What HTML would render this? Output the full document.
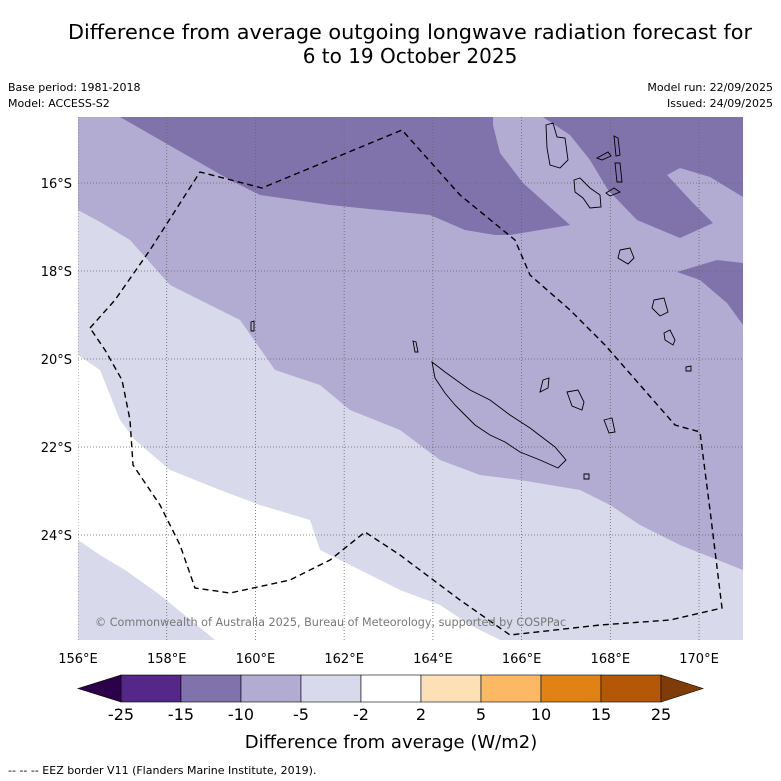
<!DOCTYPE html>
<html><head><meta charset="utf-8"><style>
body{margin:0;background:#fff;font-family:"DejaVu Sans",sans-serif}
svg{display:block}
</style></head><body>
<svg id="s" width="781" height="781" viewBox="0 0 781 781" xmlns="http://www.w3.org/2000/svg" font-family="DejaVu Sans, sans-serif">
<text x="410" y="39" font-size="20" text-anchor="middle" textLength="684" lengthAdjust="spacingAndGlyphs">Difference from average outgoing longwave radiation forecast for</text>
<text x="410" y="63" font-size="20" text-anchor="middle">6 to 19 October 2025</text>
<text x="8" y="91" font-size="11">Base period: 1981-2018</text>
<text x="8" y="107" font-size="11">Model: ACCESS-S2</text>
<text x="773" y="91" font-size="11" text-anchor="end">Model run: 22/09/2025</text>
<text x="773" y="107" font-size="11" text-anchor="end">Issued: 24/09/2025</text>
<defs><clipPath id="mc"><rect x="78" y="117" width="665" height="523"/></clipPath></defs>
<g id="map" clip-path="url(#mc)"></g>
<text x="95" y="626" font-size="11.2" fill="#777">© Commonwealth of Australia 2025, Bureau of Meteorology, supported by COSPPac</text>
<g id="axes"></g>
<g id="cbar"></g>
<text x="391" y="748" font-size="18" text-anchor="middle">Difference from average (W/m2)</text>
<text x="8" y="774" font-size="11">--  --  -- EEZ border V11 (Flanders Marine Institute, 2019).</text>
</svg>
<script>
const lonTicks=[156,158,160,162,164,166,168,170];
const latTicks=[16,18,20,22,24];
const cbBounds=[-25,-15,-10,-5,-2,2,5,10,15,25];
const cbColors=["#542788","#8073ac","#b2abd2","#d8daeb","#ffffff","#fee0b6","#fdb863","#e08214","#b35806"];
const cbExt=["#2d004b","#7f3b08"];
const regDarkLeft=[[120,117],[230,180],[260,195],[330,205],[430,215],[465,230],[495,235],[510,235],[570,225],[523,183],[500,153],[493,125],[493,117]];
const regDarkRight=[[543,117],[570,135],[590,160],[608,190],[637,220],[680,238],[713,223],[693,203],[667,175],[680,168],[710,177],[743,197],[743,117]];
const regDarkPatch=[[677,272],[717,260],[743,263],[743,325],[727,303],[700,280]];
const regPale=[[78,210],[100,222],[130,240],[170,285],[200,300],[240,320],[275,370],[320,385],[350,410],[400,430],[440,460],[480,475],[520,480],[580,490],[610,505],[640,525],[680,545],[743,570],[743,640],[78,640]];
const regWhite=[[78,355],[100,370],[120,420],[135,440],[170,470],[220,490],[260,505],[310,520],[320,550],[360,570],[400,590],[440,605],[470,625],[500,640],[215,640],[160,595],[125,570],[100,555],[78,540]];
const eez=[[90,328],[115,300],[150,250],[200,172],[262,188],[402,130],[460,195],[515,240],[530,275],[570,310],[605,345],[640,385],[675,425],[700,432],[710,510],[722,608],[670,620],[600,625],[510,635],[460,600],[420,570],[400,555],[365,532],[330,560],[290,580],[230,593],[195,588],[180,545],[160,505],[133,465],[130,420],[122,380],[105,350],[90,328]];
const islands=[
[[432,362],[445,372],[470,390],[490,400],[510,415],[530,428],[555,447],[566,460],[558,468],[540,460],[520,452],[505,442],[490,435],[475,425],[465,415],[455,405],[445,393],[435,378]],
[[546,125],[553,123],[557,137],[565,138],[568,160],[560,168],[550,165],[547,148]],
[[574,180],[580,178],[590,188],[600,195],[601,207],[590,208],[583,198],[575,192]],
[[597,158],[608,152],[611,156],[602,160]],
[[614,136],[618,138],[620,155],[616,156]],
[[615,163],[620,163],[622,182],[617,182]],
[[606,193],[614,188],[620,192],[610,196]],
[[620,250],[630,248],[634,258],[628,264],[618,258]],
[[654,300],[664,298],[668,312],[660,316],[652,308]],
[[664,333],[670,330],[675,340],[673,345],[665,340]],
[[567,392],[578,390],[584,402],[582,410],[572,406]],
[[543,380],[549,378],[548,388],[540,392]],
[[251,322],[254,321],[254,331],[251,331]],
[[413,341],[416,342],[418,352],[415,352]],
[[686,367],[691,366],[691,371],[686,371]],
[[584,474],[589,474],[589,479],[584,479]],
[[604,420],[612,418],[615,432],[609,433]]
];
const NS="http://www.w3.org/2000/svg";
function lonX(lon){return 78+(lon-156)*44.36;}
function latY(lat){return 183+(lat-16)*44;}
function pxLon(x){return 156+(x-78)/44.36;}
function pxLat(y){return 16+(y-183)/44;}
function ll(arr){return arr.map(p=>[pxLon(p[0]),pxLat(p[1])]);}
function pts(arr){return ll(arr).map(p=>lonX(p[0]).toFixed(1)+","+latY(p[1]).toFixed(1)).join(" ");}
function mk(tag,attrs,parent){const e=document.createElementNS(NS,tag);for(const k in attrs)e.setAttribute(k,attrs[k]);parent.appendChild(e);return e;}
const map=document.getElementById('map');
let r=mk('rect',{x:78,y:117,width:665,height:523,fill:"#b2abd2"},map);


let p;
p=mk('polygon',{points:pts(regPale),fill:"#d8daeb"},map);


p=mk('polygon',{points:pts(regWhite),fill:"#ffffff"},map);


[regDarkLeft,regDarkRight,regDarkPatch].forEach(function(reg){
 const q=mk('polygon',{points:pts(reg),fill:"#8073ac"},map);
 
 
});
lonTicks.forEach(function(l){
 const g=mk('line',{x1:lonX(l),x2:lonX(l),y1:117,y2:640,stroke:"#666","stroke-width":0.8,"stroke-dasharray":"1,2"},map);
 
 
});
latTicks.forEach(function(l){
 const g=mk('line',{x1:78,x2:743,y1:latY(l),y2:latY(l),stroke:"#666","stroke-width":0.8,"stroke-dasharray":"1,2"},map);
 
 
});
islands.forEach(function(is){
 const q=mk('polygon',{points:pts(is),fill:"none",stroke:"#000","stroke-width":0.9},map);
 
 
});
p=mk('polyline',{points:pts(eez),fill:"none",stroke:"#000","stroke-width":1.4,"stroke-dasharray":"6,4"},map);


const axes=document.getElementById('axes');
lonTicks.forEach(function(l){
 const t=mk('text',{x:lonX(l),y:663,"font-size":13,"text-anchor":"middle"},axes);
 t.textContent=l+"°E";
 
 
});
latTicks.forEach(function(l){
 const t=mk('text',{x:72,y:latY(l)+5,"font-size":13,"text-anchor":"end"},axes);
 t.textContent=l+"°S";
 
 
});
const cb=document.getElementById('cbar');
const cx0=121,cw=60,cy=675,ch=27;
function cbX(i){return cx0+i*cw;}
cbColors.forEach(function(c,i){
 const b=mk('rect',{x:cbX(i),y:cy,width:cw,height:ch,fill:c,stroke:"#000","stroke-width":0.6},cb);
 
 
});
let t1=mk('polygon',{points:`${cbX(0)},${cy} 78,${cy+ch/2} ${cbX(0)},${cy+ch}`,fill:cbExt[0],stroke:"#000","stroke-width":0.6},cb);


let n=cbColors.length;
let t2=mk('polygon',{points:`${cbX(n)},${cy} 703,${cy+ch/2} ${cbX(n)},${cy+ch}`,fill:cbExt[1],stroke:"#000","stroke-width":0.6},cb);


cbBounds.forEach(function(v,i){
 const t=mk('text',{x:cbX(i),y:720,"font-size":16,"text-anchor":"middle"},cb);
 t.textContent=v;
 
 
});
</script>
</body></html>
